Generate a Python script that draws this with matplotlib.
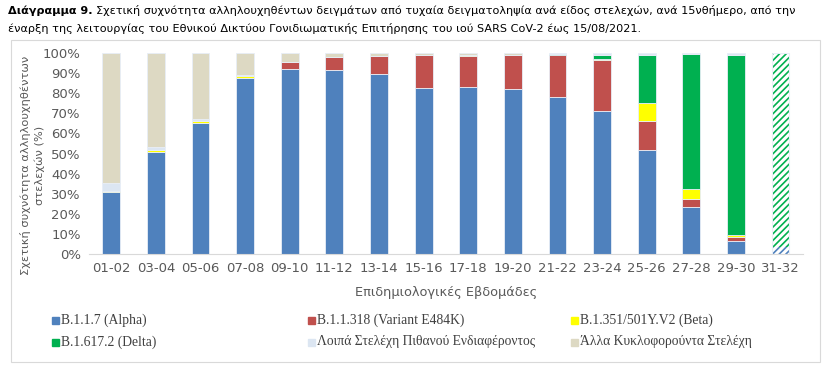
import numpy as np
import matplotlib.pyplot as plt
from matplotlib.patches import Rectangle

plt.rcParams['font.family'] = ['DejaVu Sans']
plt.rcParams['hatch.linewidth'] = 1.2

weeks = ['01-02', '03-04', '05-06', '07-08', '09-10', '11-12', '13-14', '15-16',
         '17-18', '19-20', '21-22', '23-24', '25-26', '27-28', '29-30', '31-32']
alpha = [31.0, 51.0, 65.2, 87.7, 92.0, 91.5, 89.7, 82.8, 83.3, 81.9, 78.1, 71.3, 51.6, 23.2, 6.5, 3.3]
e484k = [0, 0, 0, 0, 3.7, 6.3, 8.6, 16.2, 15.4, 17.1, 20.9, 25.4, 14.7, 4.2, 1.8, 0]
beta = [0.5, 1.0, 1.1, 1.1, 0, 0, 0.3, 0, 0.5, 0, 0, 0.5, 8.8, 4.9, 1.2, 0]
delta = [0, 0, 0, 0, 0, 0, 0, 0, 0, 0, 0.5, 2.0, 24.1, 67.4, 89.7, 96.7]
loipa = [3.8, 1.2, 1.0, 0.3, 0, 0.3, 0, 0, 0, 0, 0.5, 0.8, 0.8, 0.3, 0.8, 0]
partial = [False] * 15 + [True]   # last fortnight: incomplete data (hatched)

labels = ['B.1.1.7 (Alpha)', 'B.1.1.318 (Variant E484K)', 'B.1.351/501Y.V2 (Beta)',
          'B.1.617.2 (Delta)', 'Λοιπά Στελέχη Πιθανού Ενδιαφέροντος', 'Άλλα Κυκλοφορούντα Στελέχη']
colors = ['#4F81BD', '#C0504D', '#FFFF00', '#00B050', '#DCE6F2', '#DDD9C3']

series = np.array([alpha, e484k, beta, delta, loipa], dtype=float)
alla = np.where(partial, 0, 100 - series.sum(axis=0))
series = np.vstack([series, alla])

fig = plt.figure(figsize=(8.32, 3.66), dpi=100)
ax = fig.add_axes([0.107, 0.306, 0.858, 0.549])

x = np.arange(len(weeks))
full = ~np.array(partial)
bottom = np.zeros(len(weeks))
for vals, c in zip(series, colors):
    ax.bar(x[full], vals[full], 0.4, bottom=bottom[full], color=c,
           edgecolor='#E8EEF7', linewidth=0.6)
    if vals[~full].sum() > 0:
        ax.bar(x[~full], vals[~full], 0.4, bottom=bottom[~full], color='white',
               edgecolor=c, hatch='/////', linewidth=0)
    bottom += vals
ax.bar(x[~full], 100, 0.4, fill=False, edgecolor='#E8EEF7', linewidth=0.8)

ax.set_xlim(-0.5, len(weeks) - 0.5)
ax.set_ylim(0, 100)
ax.set_yticks(range(0, 101, 10))
ax.set_yticklabels([f'{v}%' for v in range(0, 101, 10)])
ax.set_xticks(x)
ax.set_xticklabels(weeks)
ax.tick_params(length=0, labelsize=9.5, colors='#595959', pad=6)
for s in ['top', 'right', 'left']:
    ax.spines[s].set_visible(False)
ax.spines['bottom'].set_color('#D9D9D9')
ax.set_xlabel('Επιδημιολογικές Εβδομάδες', fontsize=9.3, color='#595959', labelpad=8)
ax.set_ylabel('Σχετική συχνότητα αλληλουχηθέντων\nστελεχών (%)', fontsize=8.2,
              color='#595959', linespacing=1.35)
ax.yaxis.set_label_coords(-0.062, 0.44)

# chart frame
fig.patches.append(Rectangle((11 / 832, 4 / 366), 809 / 832, 322 / 366, transform=fig.transFigure,
                             fill=False, edgecolor='#D9D9D9', linewidth=0.8))

# legend, laid out like the Excel one
legx = [52, 308, 571]
legy = [320, 342]
for i, (lab, c) in enumerate(zip(labels, colors)):
    px, py = legx[i % 3], legy[i // 3]
    fig.patches.append(Rectangle((px / 832, (366 - py - 4) / 366), 7 / 832, 7 / 366,
                                 transform=fig.transFigure, color=c))
    fig.text((px + 9) / 832, (366 - py) / 366, lab, fontsize=9.8, color='#404040',
             va='center', ha='left', family=['Liberation Serif', 'DejaVu Serif'])

# title
r = fig.canvas.get_renderer()
t = fig.text(8 / 832, 1 - 11 / 366, 'Διάγραμμα 9.', fontsize=8.1, weight='bold', va='center')
w = t.get_window_extent(renderer=r).width
fig.text((8 + w + 3) / 832, 1 - 11 / 366,
         'Σχετική συχνότητα αλληλουχηθέντων δειγμάτων από τυχαία δειγματοληψία ανά είδος στελεχών, ανά 15νθήμερο, από την',
         fontsize=8.1, va='center')
fig.text(8 / 832, 1 - 28 / 366,
         'έναρξη της λειτουργίας του Εθνικού Δικτύου Γονιδιωματικής Επιτήρησης του ιού SARS CoV-2 έως 15/08/2021.',
         fontsize=8.1, va='center')

fig.savefig('out.png', dpi=100)
